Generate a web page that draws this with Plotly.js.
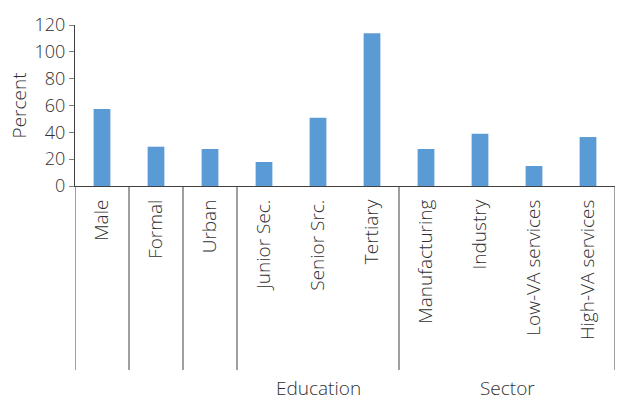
<!DOCTYPE html>
<html>
<head>
<meta charset="utf-8">
<script src="https://cdn.plot.ly/plotly-3.0.1.min.js"></script>
<style>html,body{margin:0;padding:0;background:#fff;}#chart{width:624px;height:401px;}</style>
</head>
<body>
<div id="chart"></div>
<script>
const categories = ['Male','Formal','Urban','Junior Sec.','Senior Src.','Tertiary','Manufacturing','Industry','Low-VA services','High-VA services'];
const values = [57.4, 29.3, 27.6, 17.9, 50.9, 113.8, 27.6, 39.0, 14.9, 36.5];
const groups = ['', '', '', 'Education', 'Education', 'Education', 'Sector', 'Sector', 'Sector', 'Sector'];
const yTicks = [0, 20, 40, 60, 80, 100, 120];

const axisColor = '#404040';
const textColor = '#303030';
const fontFamily = '"Open Sans", "Noto Sans", sans-serif';
const fw = 300;

// divider positions (category units) and group label positions
const dividers = [-0.5];
const groupLabels = [];
let i = 0;
while (i < categories.length) {
  if (groups[i] === '') {
    dividers.push(i + 0.5);
    i++;
  } else {
    const g = groups[i];
    const start = i;
    while (i < categories.length && groups[i] === g) i++;
    dividers.push(i - 0.5);
    groupLabels.push({name: g, center: (start + i - 1) / 2});
  }
}

const shapes = dividers.map(x => ({
  type: 'line', xref: 'x', yref: 'paper',
  x0: x, x1: x, y0: 0, y1: -1.143,
  line: {color: axisColor, width: 1}
}));

const annotations = groupLabels.map(g => ({
  text: g.name, xref: 'x', yref: 'paper', x: g.center, y: -1.255,
  xanchor: 'center', yanchor: 'middle', showarrow: false, borderpad: 0,
  font: {family: fontFamily, size: 19, color: textColor, weight: fw}
}));

const trace = {
  type: 'bar',
  x: categories,
  y: values,
  marker: {color: '#5B9BD5'},
  hoverinfo: 'x+y'
};

const layout = {
  width: 624, height: 401,
  margin: {l: 75, r: 9, t: 25, b: 215},
  paper_bgcolor: '#fff', plot_bgcolor: '#fff',
  bargap: 0.69,
  showlegend: false,
  font: {family: fontFamily, size: 18, color: textColor, weight: fw},
  xaxis: {
    type: 'category',
    range: [-0.5, categories.length - 0.5],
    tickangle: -90,
    ticks: '',
    showline: true, linecolor: axisColor, linewidth: 1,
    showgrid: false, zeroline: false,
    ticklabelstandoff: 5,
    tickfont: {family: fontFamily, size: 19, color: textColor, weight: fw}
  },
  yaxis: {
    range: [0, 120],
    tickvals: yTicks,
    ticktext: yTicks.map(String),
    ticks: 'outside', ticklen: 5, tickcolor: '#808080',
    showline: true, linecolor: axisColor, linewidth: 1,
    showgrid: false, zeroline: false,
    tickfont: {family: fontFamily, size: 18, color: textColor, weight: fw},
    title: {text: 'Percent', font: {family: fontFamily, size: 19, color: textColor, weight: fw}, standoff: 2}
  },
  shapes: shapes,
  annotations: annotations
};

Plotly.newPlot('chart', [trace], layout, {displayModeBar: false, staticPlot: true});
</script>
</body>
</html>
